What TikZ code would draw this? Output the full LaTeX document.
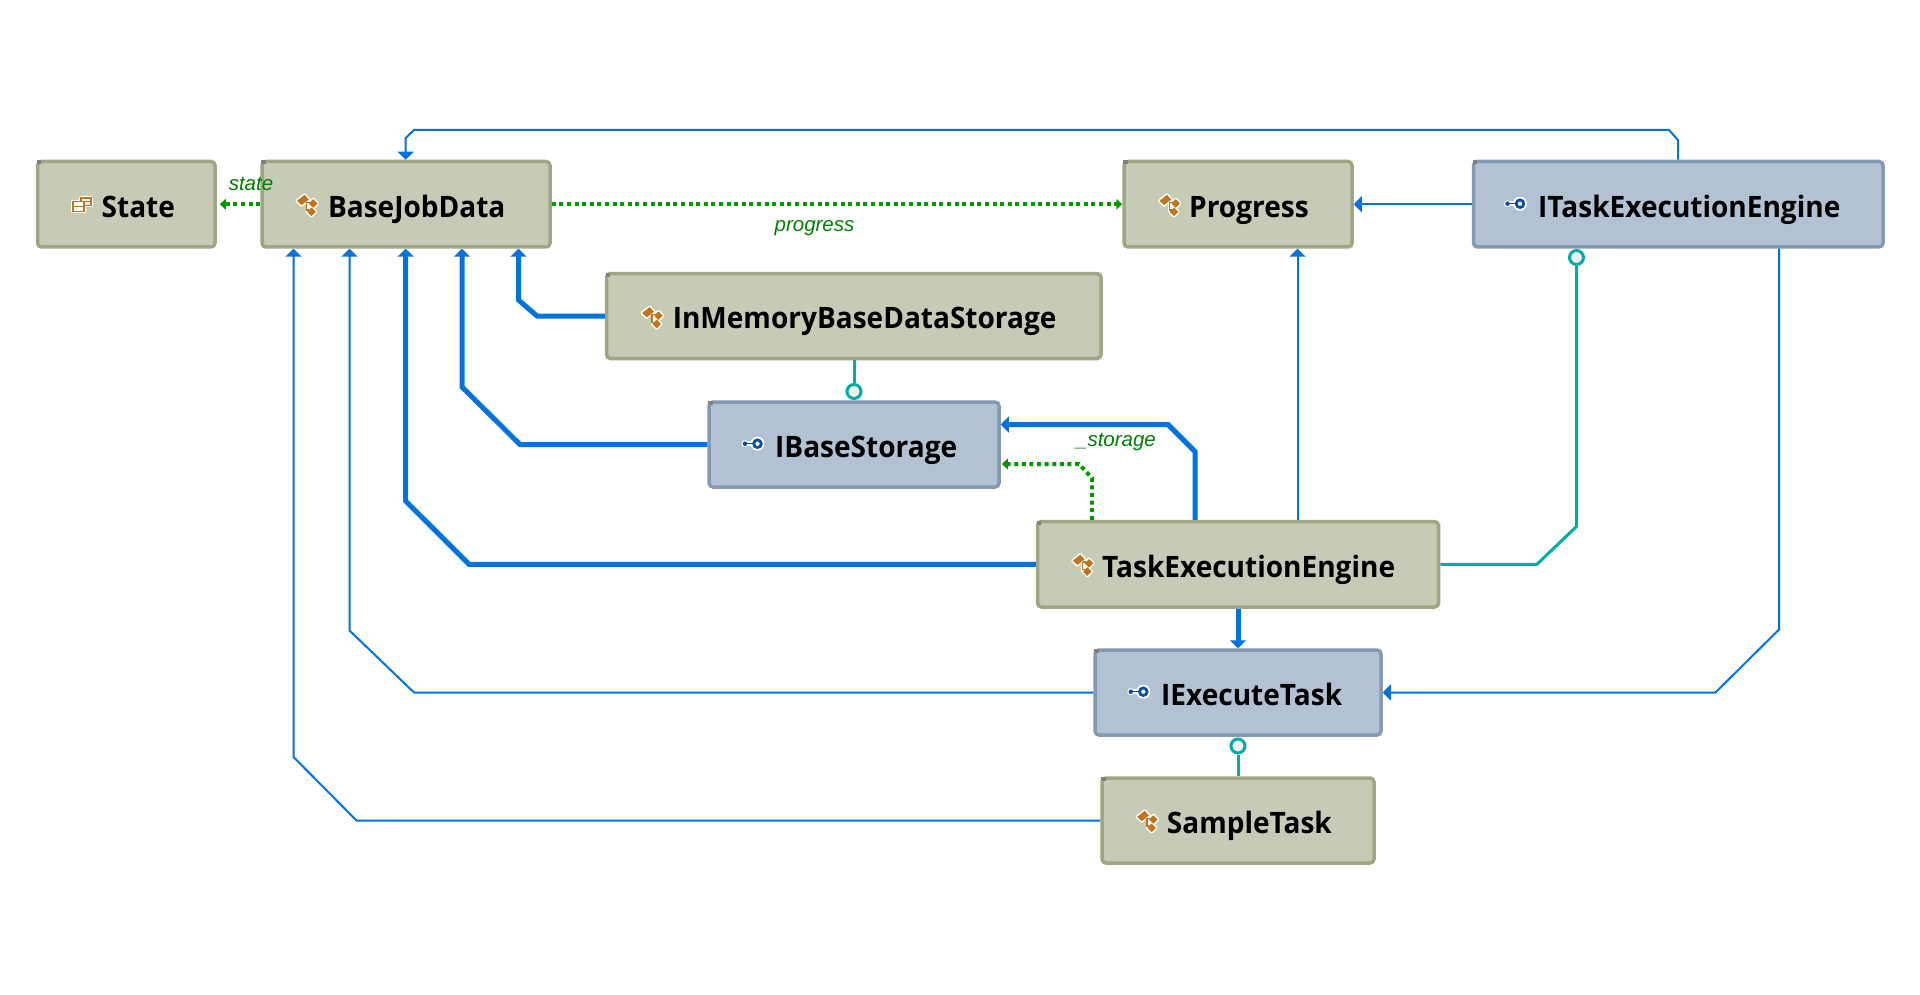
\documentclass[tikz,border=0pt]{standalone}
\usepackage{fontspec}
\setmainfont{Open Sans}[FakeStretch=0.95]
\newfontfamily\edgefont{Liberation Sans}
\usetikzlibrary{arrows.meta,calc}
\definecolor{clsfill}{HTML}{C6CBB5}
\definecolor{clsline}{HTML}{A0A683}
\definecolor{ifcfill}{HTML}{B3C2D3}
\definecolor{ifcline}{HTML}{8399B4}
\definecolor{linkblue}{HTML}{0073E0}
\definecolor{linkteal}{HTML}{00ACA8}
\definecolor{linkgreen}{HTML}{009A00}
\definecolor{lblgreen}{HTML}{008000}
\definecolor{iconorange}{HTML}{C0741E}
\definecolor{iconblue}{HTML}{0A4FA0}
\tikzset{
  clsbox/.style={draw=clsline,fill=clsfill,line width=3.5pt,rounded corners=4pt,inner sep=0pt},
  ifcbox/.style={draw=ifcline,fill=ifcfill,line width=3.5pt,rounded corners=4pt,inner sep=0pt},
  title/.style={anchor=base west,inner sep=0pt,font=\fontsize{29.5}{30}\selectfont\bfseries,text=black},
  thinlink/.style={draw=linkblue,line width=2pt,-{Triangle[length=8pt,width=16pt]}},
  thicklink/.style={draw=linkblue,line width=5pt,-{Triangle[length=8pt,width=16pt]}},
  fieldlink/.style={draw=linkgreen,line width=4pt,dash pattern=on 4pt off 3.6pt,-{Triangle[length=6pt,width=10.5pt]}},
  implink/.style={draw=linkteal,line width=3pt},
  lolli/.style={circle,draw=linkteal,fill=white!94!black,line width=3pt,minimum size=14pt,inner sep=0pt},
  edgelabel/.style={inner sep=0pt,text=lblgreen,font=\edgefont\fontsize{20.5}{20.5}\selectfont\itshape},
  pics/classicon/.style={code={
    \draw[white,fill=white,line width=3pt,line join=round]
      (-9.5,-3.7) -- (-2,-9.7) -- (2.3,-5) -- (-5,0.7) -- cycle
      (6.7,-5.3) -- (11,-1) -- (6.7,3.3) -- (2.4,-1) -- cycle
      (5,3) -- (9.3,7.3) -- (5,11.6) -- (0.7,7.3) -- cycle;
    \fill[white] (-1,-4) rectangle (6,8);
    \fill[iconorange] (-9.5,-3.7) -- (-2,-9.7) -- (2.3,-5) -- (-5,0.7) -- cycle;
    \fill[iconorange] (6.7,-5.3) -- (11,-1) -- (6.7,3.3) -- (2.4,-1) -- cycle;
    \fill[iconorange] (5,3) -- (9.3,7.3) -- (5,11.6) -- (0.7,7.3) -- cycle;
    \draw[iconorange,line width=1.2pt] (0.3,-2.3) -- (3.5,-2.3) (0.3,-2.3) -- (0.3,5.5) -- (2.5,5.5);
  }},
  pics/ifcicon/.style={code={
    \draw[white,line width=5pt,line cap=round] (-12.5,0) -- (-4,0);
    \fill[white] (0,0) circle (7);
    \fill[white] (-12.5,0) circle (3.5);
    \draw[iconblue,line width=1.4pt] (-12.5,0) -- (-4,0);
    \fill[iconblue] (-12.5,0) circle (2.3);
    \draw[iconblue,line width=2.8pt,fill=white] (0,0) circle (3.8);
  }},
  pics/enumicon/.style={code={
    \draw[white,line width=3.5pt,line join=round] (-1,-6.5) rectangle (9,1);
    \draw[white,line width=3.5pt,line join=round] (-9,-3) rectangle (2,7);
    \draw[iconorange,line width=1.4pt,fill=white] (-1,-6.5) rectangle (9,1);
    \draw[iconorange,line width=1.4pt] (3,-3) -- (9,-3);
    \draw[iconorange,line width=1.4pt,fill=white] (-9,-3) rectangle (2,7);
    \draw[iconorange,line width=1.4pt] (-9,2) -- (2,2);
  }},
}
\newcommand{\diagbox}[6]{%
  \pgfmathsetmacro{\bw}{#4-#2-2}%
  \pgfmathsetmacro{\bh}{#5-#3-2}%
  \node[#6,minimum width=\bw pt,minimum height=\bh pt] (#1) at ({(#2+#4)/2},{(#3+#5)/2}) {};%
  \fill[black!50] (#2,#3) rectangle ++(4.5,4);%
}
\begin{document}
\begin{tikzpicture}[x=1pt,y=-1pt]
\useasboundingbox (0,0) rectangle (1920,995);
\fill[white] (0,0) rectangle (1920,995);

\diagbox{state}{36.5}{160.5}{216}{248}{clsbox}
\diagbox{base}{261}{160.5}{551}{248}{clsbox}
\diagbox{prog}{1123}{160.5}{1353}{248}{clsbox}
\diagbox{iengine}{1472.5}{160.5}{1884}{248}{ifcbox}
\diagbox{mem}{605.5}{272.5}{1102}{359.5}{clsbox}
\diagbox{ibase}{708}{401}{1000}{488}{ifcbox}
\diagbox{engine}{1036.5}{520.5}{1439.5}{608}{clsbox}
\diagbox{iexec}{1094}{649}{1382}{736}{ifcbox}
\diagbox{sample}{1101}{777}{1375}{864}{clsbox}

% connectors
\draw[thinlink] (1678,0 |- iengine.north) -- (1678,140) -- (1669,130) -- (414,130) -- (405.7,138) -- (405.7,0 |- base.north);
\draw[thinlink] (iengine.west) -- (prog.east);
\draw[thinlink] (1297.5,0 |- engine.north) -- (1297.5,0 |- prog.south);
\draw[thinlink] (1779,0 |- iengine.south) -- (1779,629.5) -- (1715.5,0 |- iexec.east) -- (iexec.east);
\draw[thinlink] (iexec.west) -- (414,0 |- iexec.west) -- (349.5,630.5) -- (349.5,0 |- base.south);
\draw[thinlink] (sample.west) -- (356.5,0 |- sample.west) -- (293.5,757) -- (293.5,0 |- base.south);

\draw[thicklink] (mem.west) -- (537,0 |- mem.west) -- (518.5,300) -- (518.5,0 |- base.south);
\draw[thicklink] (ibase.west) -- (520,0 |- ibase.west) -- (462,387) -- (462,0 |- base.south);
\draw[thicklink] (engine.west) -- (469,0 |- engine.west) -- (405.7,501) -- (405.7,0 |- base.south);
\draw[thicklink] (1195,0 |- engine.north) -- (1195,451.5) -- (1168,424.5) -- (ibase.east |- 0,424.5);
\draw[thicklink] (engine.south) -- (iexec.north);

\draw[fieldlink,shorten >=3pt] (base.west) -- (state.east);
\draw[fieldlink] (base.east) -- (prog.west);
\draw[fieldlink,shorten >=1pt] (1092,0 |- engine.north) -- (1092,478) -- (1079,464) -- (ibase.east |- 0,464);

\node[lolli] (lollibase) at (854,391.5) {};
\node[lolli] (lolliexec) at (1238,746) {};
\node[lolli] (lolliengine) at (1576.5,257.5) {};
\draw[implink] (mem.south -| lollibase) -- (lollibase.north);
\draw[implink] (sample.north -| lolliexec) -- (lolliexec.south);
\draw[implink] (engine.east) -- (1537,0 |- engine.east) -- (1576.5,526.5) -- (lolliengine.south);

% icons
\pic at (82,204.5) {enumicon};
\pic at (306.5,204.5) {classicon};
\pic at (1169,204.5) {classicon};
\pic at (651.7,316.7) {classicon};
\pic at (1082.3,564.3) {classicon};
\pic at (1146.7,820.5) {classicon};
\pic at (1520,203.7) {ifcicon};
\pic at (757.5,443.7) {ifcicon};
\pic at (1143.3,691.7) {ifcicon};

% titles
\node[title] (tstate) at (101.5,217.5) {State};
\node[title] (tbase) at (327.8,217.5) {BaseJobData};
\node[title] (tprog) at (1189,217.5) {Progress};
\node[title] (tiengine) at (1538,217.5) {ITaskExecutionEngine};
\node[title] (tmem) at (672.6,328.8) {InMemoryBaseDataStorage};
\node[title] (tibase) at (775,457.5) {IBaseStorage};
\node[title] (tengine) at (1102,577.5) {TaskExecutionEngine};
\node[title] (tiexec) at (1161,705) {IExecuteTask};
\node[title] (tsample) at (1166.7,833) {SampleTask};

% edge labels
\node[edgelabel] (lstate) at (251,183.5) {state};
\node[edgelabel] (lprog) at (814.5,228.5) {progress};
\node[edgelabel] (lstor) at (1116,441.5) {\_storage};
\end{tikzpicture}
\end{document}
